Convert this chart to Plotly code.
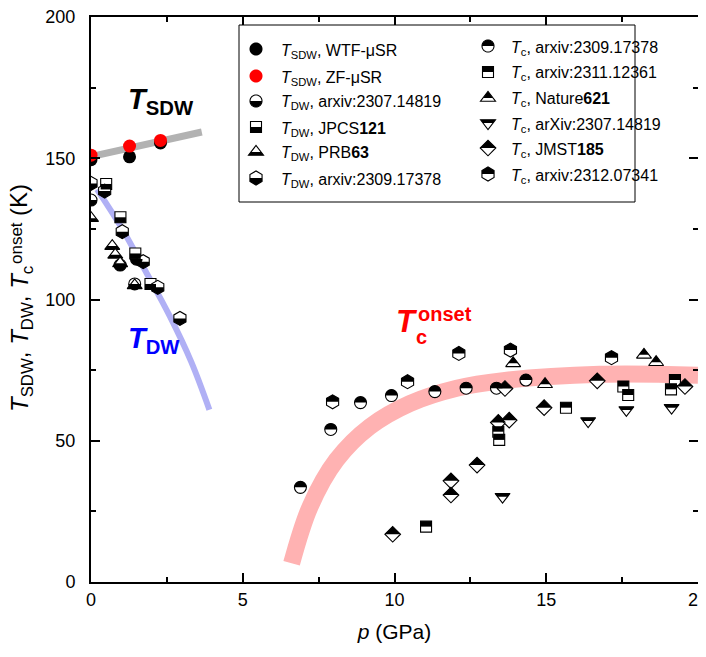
import math
import plotly.graph_objects as go

# ---------------- data ----------------
sdw_wtf_p = [0.0, 1.27, 2.29]
sdw_wtf_T = [149.5, 150.5, 155.4]
sdw_zf_p = [0.0, 1.27, 2.29]
sdw_zf_T = [151.1, 154.3, 156.3]

dw_2307_p = [0.0, 0.96, 1.50, 1.44]
dw_2307_T = [135.2, 112.2, 114.3, 105.5]
dw_jpcs_p = [0.50, 0.97, 1.46, 1.96]
dw_jpcs_T = [140.9, 129.1, 116.3, 105.5]
dw_prb_p = [0.0, 0.70, 0.80, 0.96, 1.44]
dw_prb_T = [128.8, 118.9, 115.8, 112.8, 105.0]
dw_2309_p = [0.0, 0.45, 1.03, 1.72, 2.20, 2.93]
dw_2309_T = [141.1, 138.4, 124.0, 113.4, 104.3, 93.3]

tc_2309_p = [6.9, 7.9, 8.88, 9.9, 11.33, 12.36, 13.36, 14.33]
tc_2309_T = [33.5, 54.0, 63.5, 66.0, 67.4, 68.6, 68.6, 71.5]
tc_2311_p = [11.04, 13.42, 13.45, 15.65, 17.54, 17.70, 19.24, 19.11]
tc_2311_T = [19.6, 53.2, 50.3, 61.7, 69.2, 66.2, 71.5, 68.2]
tc_nat_p = [13.91, 14.96, 18.22, 18.62]
tc_nat_T = [77.4, 70.0, 80.4, 77.8]
tc_2307_p = [13.56, 16.38, 17.64, 19.13]
tc_2307_T = [30.2, 57.0, 60.9, 61.7]
tc_jmst_p = [9.94, 11.86, 11.86, 12.72, 13.42, 13.78, 13.64, 14.93, 16.68, 19.57]
tc_jmst_T = [16.9, 35.8, 30.8, 41.4, 56.5, 57.3, 68.5, 61.7, 71.2, 69.2]
tc_2312_p = [7.96, 10.43, 12.12, 13.82, 17.15]
tc_2312_T = [63.8, 70.9, 80.9, 82.1, 79.4]

# guide curves
sdw_line_p = [0.0, 3.65]
sdw_line_T = [150.6, 159.3]
dw_line_p = [0.2, 1.0, 1.8, 2.6, 3.3, 3.9]
dw_line_T = [139.0, 125.5, 110.0, 94.0, 78.0, 61.0]
tc_line_p = [6.61, 7.22, 8.09, 9.19, 10.51, 12.05, 13.58, 16.77, 20.0]
tc_line_T = [6.6, 26.7, 43.2, 55.0, 63.2, 68.6, 71.3, 73.5, 73.2]

# legend entries: (label, symbol, fill)  fill: 'full', 'red', 'top', 'bottom'
legend_left = [
    ("<i>T</i><sub>SDW</sub>, WTF-μSR", "circle", "full"),
    ("<i>T</i><sub>SDW</sub>, ZF-μSR", "circle", "red"),
    ("<i>T</i><sub>DW</sub>, arxiv:2307.14819", "circle", "bottom"),
    ("<i>T</i><sub>DW</sub>, JPCS<b>121</b>", "square", "bottom"),
    ("<i>T</i><sub>DW</sub>, PRB<b>63</b>", "triangle-up", "bottom"),
    ("<i>T</i><sub>DW</sub>, arxiv:2309.17378", "hexagon", "bottom"),
]
legend_right = [
    ("<i>T</i><sub>c</sub>, arxiv:2309.17378", "circle", "top"),
    ("<i>T</i><sub>c</sub>, arxiv:2311.12361", "square", "top"),
    ("<i>T</i><sub>c</sub>, Nature<b>621</b>", "triangle-up", "top"),
    ("<i>T</i><sub>c</sub>, arXiv:2307.14819", "triangle-down", "top"),
    ("<i>T</i><sub>c</sub>, JMST<b>185</b>", "diamond", "top"),
    ("<i>T</i><sub>c</sub>, arxiv:2312.07341", "hexagon", "top"),
]

FONT = "Liberation Sans, Arial, sans-serif"
SIZES = {"circle": 12, "square": 11, "triangle-up": 13, "triangle-down": 13,
         "diamond": 12, "hexagon": 14}

# page offset (default body margin) and plot area in screen pixels
OFF = 8
L, T, W, H = 91, 17, 607, 565
FIG_W, FIG_H = 706, 657 - 2 * OFF - 6


def sym_poly(sym, size):
    r = size / 2.0
    s3 = math.sqrt(3)
    if sym == "circle":
        return [(r * math.cos(2 * math.pi * k / 40), r * math.sin(2 * math.pi * k / 40)) for k in range(40)]
    if sym == "square":
        return [(r, r), (-r, r), (-r, -r), (r, -r)]
    if sym == "diamond":
        d = 1.3 * r
        return [(d, 0), (0, d), (-d, 0), (0, -d)]
    if sym == "triangle-up":
        rt = 2 * r / s3
        return [(-rt, -r / 2), (rt, -r / 2), (0, r)]
    if sym == "triangle-down":
        rt = 2 * r / s3
        return [(-rt, r / 2), (0, -r), (rt, r / 2)]
    if sym == "hexagon":
        rt = r * s3 / 2
        rs = r / 2
        return [(rt, rs), (rt, -rs), (0, -r), (-rt, -rs), (-rt, rs), (0, r)]


def clip_half(poly, top):
    def inside(pt):
        return pt[1] >= -1e-9 if top else pt[1] <= 1e-9

    def inter(a, b):
        t = a[1] / (a[1] - b[1])
        return (a[0] + t * (b[0] - a[0]), 0.0)

    out = []
    n = len(poly)
    for i in range(n):
        cur, prev = poly[i], poly[i - 1]
        if inside(cur):
            if not inside(prev):
                out.append(inter(prev, cur))
            out.append(cur)
        elif inside(prev):
            out.append(inter(prev, cur))
    return out


def path_of(pts):
    s = "M%.2f,%.2f" % pts[0]
    for p in pts[1:]:
        s += " L%.2f,%.2f" % p
    return s + " Z"


def px2x(px):
    return (px - L) / W


def py2y(py):
    return (T + H - py) / H


fig = go.Figure()

# guide curves
fig.add_trace(go.Scatter(x=tc_line_p, y=tc_line_T, mode="lines",
                         line=dict(color="rgb(255,178,178)", width=17, shape="spline"), hoverinfo="skip"))
fig.add_trace(go.Scatter(x=sdw_line_p, y=sdw_line_T, mode="lines",
                         line=dict(color="rgb(178,178,178)", width=7), hoverinfo="skip"))
fig.add_trace(go.Scatter(x=dw_line_p, y=dw_line_T, mode="lines",
                         line=dict(color="rgb(176,176,245)", width=6, shape="spline"), hoverinfo="skip"))

shapes = []

half_series = [
    (dw_2307_p, dw_2307_T, "circle", "bottom"),
    (dw_jpcs_p, dw_jpcs_T, "square", "bottom"),
    (dw_prb_p, dw_prb_T, "triangle-up", "bottom"),
    (dw_2309_p, dw_2309_T, "hexagon", "bottom"),
    (tc_2309_p, tc_2309_T, "circle", "top"),
    (tc_2311_p, tc_2311_T, "square", "top"),
    (tc_nat_p, tc_nat_T, "triangle-up", "top"),
    (tc_2307_p, tc_2307_T, "triangle-down", "top"),
    (tc_jmst_p, tc_jmst_T, "diamond", "top"),
    (tc_2312_p, tc_2312_T, "hexagon", "top"),
]

for xs, ys, sym, half in half_series:
    fig.add_trace(go.Scatter(
        x=xs, y=ys, mode="markers",
        marker=dict(symbol=sym, size=SIZES[sym], color="white", line=dict(color="black", width=1.1))))
    hp = path_of(clip_half(sym_poly(sym, SIZES[sym]), half == "top"))
    for x, y in zip(xs, ys):
        shapes.append(dict(type="path", xref="x", yref="y", xsizemode="pixel", ysizemode="pixel",
                           xanchor=x, yanchor=y, path=hp, fillcolor="black",
                           line=dict(width=0), layer="above"))

fig.add_trace(go.Scatter(x=sdw_wtf_p, y=sdw_wtf_T, mode="markers",
                         marker=dict(symbol="circle", size=13, color="black", line=dict(width=0))))
fig.add_trace(go.Scatter(x=sdw_zf_p, y=sdw_zf_T, mode="markers",
                         marker=dict(symbol="circle", size=13, color="red", line=dict(width=0))))

annotations = []

# ---------------- manual legend ----------------
shapes.append(dict(type="rect", xref="paper", yref="paper", x0=px2x(239), x1=px2x(635),
                   y0=py2y(202), y1=py2y(25), line=dict(color="black", width=1),
                   fillcolor="white", layer="above"))

left_rows = [49, 76, 101, 127, 152, 178]
right_rows = [46, 72, 98, 123, 148, 174]
for entries, rows, mx, tx in [(legend_left, left_rows, 256, 279), (legend_right, right_rows, 488, 509)]:
    for (label, sym, half), ry in zip(entries, rows):
        full = sym_poly(sym, 13 if half in ("full", "red") else SIZES[sym])
        common = dict(type="path", xref="paper", yref="paper", xsizemode="pixel", ysizemode="pixel",
                      xanchor=px2x(mx), yanchor=py2y(ry), layer="above")
        if half in ("full", "red"):
            shapes.append(dict(common, path=path_of(full),
                               fillcolor="black" if half == "full" else "red", line=dict(width=0)))
        else:
            shapes.append(dict(common, path=path_of(full), fillcolor="white",
                               line=dict(color="black", width=1.1)))
            shapes.append(dict(common, path=path_of(clip_half(full, half == "top")),
                               fillcolor="black", line=dict(width=0)))
        annotations.append(dict(text=label, xref="paper", yref="paper", x=px2x(tx), y=py2y(ry + 2),
                                xanchor="left", yanchor="middle", showarrow=False,
                                font=dict(family=FONT, size=16, color="black")))

# ---------------- curve labels ----------------
annotations.append(dict(text="<b><i>T</i><sub>SDW</sub></b>", x=px2x(126), y=py2y(101), xref="paper", yref="paper",
                        xanchor="left", yanchor="middle", showarrow=False,
                        font=dict(family=FONT, size=29, color="black")))
annotations.append(dict(text="<b><i>T</i><sub>DW</sub></b>", x=px2x(126), y=py2y(340), xref="paper", yref="paper",
                        xanchor="left", yanchor="middle", showarrow=False,
                        font=dict(family=FONT, size=29, color="blue")))
annotations.append(dict(text="<b><i>T</i></b>", x=px2x(394), y=py2y(321), xref="paper", yref="paper",
                        xanchor="left", yanchor="middle", showarrow=False,
                        font=dict(family=FONT, size=31, color="red")))
annotations.append(dict(text="<b>onset</b>", x=px2x(416), y=py2y(314), xref="paper", yref="paper",
                        xanchor="left", yanchor="middle", showarrow=False,
                        font=dict(family=FONT, size=20, color="red")))
annotations.append(dict(text="<b>c</b>", x=px2x(414), y=py2y(337), xref="paper", yref="paper",
                        xanchor="left", yanchor="middle", showarrow=False,
                        font=dict(family=FONT, size=20, color="red")))

# ---------------- y-axis title (sub + sup stacked) ----------------
annotations.append(dict(text="<i>T</i><sub>SDW</sub>, <i>T</i><sub>DW</sub>, <i>T</i><sub>c</sub>",
                        x=px2x(21), y=py2y(414), xref="paper", yref="paper", textangle=-90,
                        xanchor="center", yanchor="bottom", showarrow=False,
                        font=dict(family=FONT, size=24, color="black")))
annotations.append(dict(text="onset", x=px2x(16), y=py2y(266), xref="paper", yref="paper", textangle=-90,
                        xanchor="center", yanchor="bottom", showarrow=False,
                        font=dict(family=FONT, size=17, color="black")))
annotations.append(dict(text="(K)", x=px2x(19), y=py2y(218), xref="paper", yref="paper", textangle=-90,
                        xanchor="center", yanchor="bottom", showarrow=False,
                        font=dict(family=FONT, size=24, color="black")))

axis_common = dict(showline=True, linecolor="black", linewidth=2, mirror="allticks",
                   ticks="inside", ticklen=9, tickwidth=1.5, tickcolor="black",
                   showgrid=False, zeroline=False, ticklabeloverflow="allow",
                   tickfont=dict(family=FONT, size=18, color="black"))

fig.update_layout(
    width=FIG_W, height=FIG_H,
    margin=dict(l=L - OFF, r=FIG_W - (L - OFF) - W, t=T - OFF, b=FIG_H - (T - OFF) - H, autoexpand=False),
    paper_bgcolor="white", plot_bgcolor="white",
    showlegend=False,
    shapes=shapes, annotations=annotations,
    xaxis=dict(range=[0, 20], tickvals=[0, 5, 10, 15, 20],
               minor=dict(dtick=2.5, ticks="inside", ticklen=5, tickwidth=1.5, tickcolor="black"),
               title=dict(text="<i>p</i> (GPa)", font=dict(family=FONT, size=21, color="black"), standoff=19),
               **axis_common),
    yaxis=dict(range=[0, 200], tickvals=[0, 50, 100, 150, 200],
               minor=dict(dtick=25, ticks="inside", ticklen=5, tickwidth=1.5, tickcolor="black"),
               ticklabelstandoff=10,
               **axis_common),
)

fig.write_html("out.html")
